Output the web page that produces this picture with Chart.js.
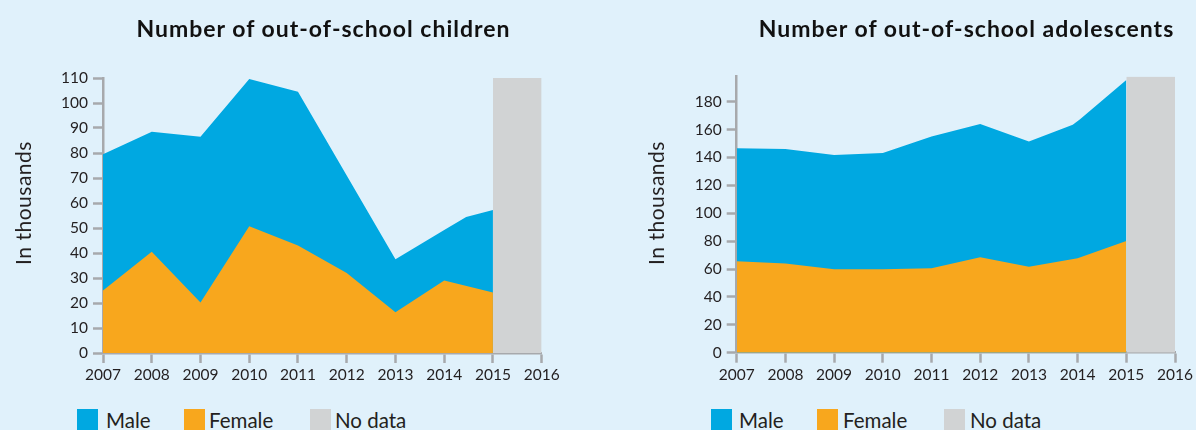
<!DOCTYPE html>
<html>
<head>
<meta charset="utf-8">
<script src="https://cdn.jsdelivr.net/npm/chart.js@4/dist/chart.umd.min.js"></script>
<style>
  html, body { margin:0; padding:0; width:1196px; height:430px; overflow:hidden; background:#E0F1FB; font-family: Lato, "Open Sans", sans-serif; }
  .cv { position:absolute; top:0; }
  .title { position:absolute; top:16px; font-weight:700; font-size:23px; letter-spacing:1px; line-height:24px; color:#111; white-space:nowrap; text-align:center; width:500px; }
  .ytitle { position:absolute; width:240px; height:24px; line-height:24px; font-size:21px; letter-spacing:0.5px; color:#231f20; text-align:center; transform:rotate(-90deg); white-space:nowrap; }
  .sw { position:absolute; top:409px; width:21px; height:25px; }
  .lg { position:absolute; top:410px; font-size:20.5px; line-height:20px; color:#231f20; white-space:nowrap; }
</style>
</head>
<body>
<canvas id="c1" class="cv" width="598" height="400" style="left:0px"></canvas>
<canvas id="c2" class="cv" width="598" height="400" style="left:598px"></canvas>

<div class="title" style="left:73.5px">Number of out-of-school children</div>
<div class="title" style="left:716.5px">Number of out-of-school adolescents</div>

<div class="ytitle" style="left:-97.5px; top:190.5px">In thousands</div>
<div class="ytitle" style="left:535.5px; top:190.5px">In thousands</div>

<div class="sw" style="left:77px; background:#00A8E1"></div><div class="lg" style="left:106px">Male</div>
<div class="sw" style="left:184px; background:#F8A71D"></div><div class="lg" style="left:209px">Female</div>
<div class="sw" style="left:310px; background:#D1D3D4"></div><div class="lg" style="left:335px">No data</div>

<div class="sw" style="left:711px; background:#00A8E1"></div><div class="lg" style="left:739px">Male</div>
<div class="sw" style="left:817px; background:#F8A71D"></div><div class="lg" style="left:843px">Female</div>
<div class="sw" style="left:944px; background:#D1D3D4"></div><div class="lg" style="left:970px">No data</div>

<script>
// ---- Data ----
const xTickYears = [2007, 2008, 2009, 2010, 2011, 2012, 2013, 2014, 2015, 2016];
const childrenYTicks = [0, 10, 20, 30, 40, 50, 60, 70, 80, 90, 100, 110];
const adolYTicks = [0, 20, 40, 60, 80, 100, 120, 140, 160, 180];

// Out-of-school children (thousands)
const childrenFemaleYears = [2007, 2008, 2009, 2010, 2011, 2012, 2013, 2014, 2015];
const childrenFemale      = [25, 40.5, 20.2, 50.7, 43, 32, 16.3, 29, 24.2];
// Upper edge of the stacked Male area (male + female)
const childrenMaleTopYears = [2007, 2008, 2009, 2010, 2011, 2012, 2013, 2014, 2014.45, 2015];
const childrenMaleTop      = [79.5, 88.5, 86.5, 109.6, 104.5, 71, 37.5, 49.2, 54.4, 57.2];
const childrenNoDataYears = [2015, 2016];
const childrenNoData      = [110, 110];

// Out-of-school adolescents (thousands)
const adolFemaleYears = [2007, 2008, 2009, 2010, 2011, 2012, 2013, 2014, 2015];
const adolFemale      = [65.5, 64, 59.8, 59.8, 60.5, 68.4, 61.7, 67.7, 80.1];
const adolMaleTopYears = [2007, 2008, 2009, 2010, 2011, 2012, 2013, 2013.9, 2014.05, 2015];
const adolMaleTop      = [146.6, 146.1, 141.8, 143.3, 155, 164, 151.4, 163.5, 167.5, 195.6];
const adolNoDataYears = [2015, 2016];
const adolNoData      = [198, 198];

// ---- Styles ----
const BLUE = '#00A8E1', ORANGE = '#F8A71D', GREY = '#D1D3D4', AXIS = '#A7A9AC', TXT = '#231F20';

function pts(xs, ys) { return xs.map((x, i) => ({ x: x, y: ys[i] })); }

function area(label, xs, ys, color) {
  return { label, data: pts(xs, ys), backgroundColor: color, borderColor: color, borderWidth: 0,
           fill: 'origin', pointRadius: 0, pointHoverRadius: 0, tension: 0 };
}

function makeChart(id, cfg) {
  return new Chart(document.getElementById(id), {
    type: 'line',
    data: { datasets: [
      area('Female', cfg.fYears, cfg.f, ORANGE),
      area('Male', cfg.mYears, cfg.m, BLUE),
      area('No data', cfg.nYears, cfg.n, GREY)
    ]},
    options: {
      responsive: false, animation: false, devicePixelRatio: 1,
      events: [],
      layout: { padding: { left: 0, top: cfg.padTop, right: cfg.padRight, bottom: 0 } },
      plugins: { legend: { display: false }, title: { display: false }, tooltip: { enabled: false } },
      scales: {
        x: {
          type: 'linear', min: 2007, max: 2016, z: 1,
          afterBuildTicks: s => { s.ticks = xTickYears.map(v => ({ value: v })); },
          afterFit: s => { s.height = cfg.xHeight; },
          grid: { drawOnChartArea: false, drawTicks: true, tickLength: 10, tickColor: AXIS, tickWidth: 2.5, color: AXIS },
          border: { display: true, color: AXIS, width: 2.5 },
          ticks: { color: TXT, font: { size: 15.5 }, padding: 3, maxRotation: 0, autoSkip: false, callback: v => String(v) }
        },
        y: {
          type: 'linear', min: 0, max: cfg.yMax, z: 1,
          afterBuildTicks: s => { s.ticks = cfg.yTicks.map(v => ({ value: v })); },
          afterFit: s => { s.width = cfg.yWidth; },
          grid: { drawOnChartArea: false, drawTicks: true, tickLength: 10, tickColor: AXIS, tickWidth: 2.5, color: AXIS },
          border: { display: true, color: AXIS, width: 2.5 },
          ticks: { color: TXT, font: { size: 15.5 }, padding: 5, autoSkip: false, callback: v => String(v) }
        }
      }
    }
  });
}

function draw() {
  Chart.defaults.font.family = 'Lato, "Open Sans", sans-serif';
  makeChart('c1', {
    fYears: childrenFemaleYears, f: childrenFemale,
    mYears: childrenMaleTopYears, m: childrenMaleTop,
    nYears: childrenNoDataYears, n: childrenNoData,
    yMax: 110, yTicks: childrenYTicks,
    padTop: 78, padRight: 56.3, yWidth: 103, xHeight: 47
  });
  makeChart('c2', {
    fYears: adolFemaleYears, f: adolFemale,
    mYears: adolMaleTopYears, m: adolMaleTop,
    nYears: adolNoDataYears, n: adolNoData,
    yMax: 198, yTicks: adolYTicks,
    padTop: 76.6, padRight: 20.7, yWidth: 138.7, xHeight: 47.3
  });
}

if (document.fonts && document.fonts.load) {
  Promise.all([document.fonts.load('15px Lato'), document.fonts.load('bold 20px Lato')]).then(draw, draw);
} else { draw(); }
</script>
</body>
</html>
